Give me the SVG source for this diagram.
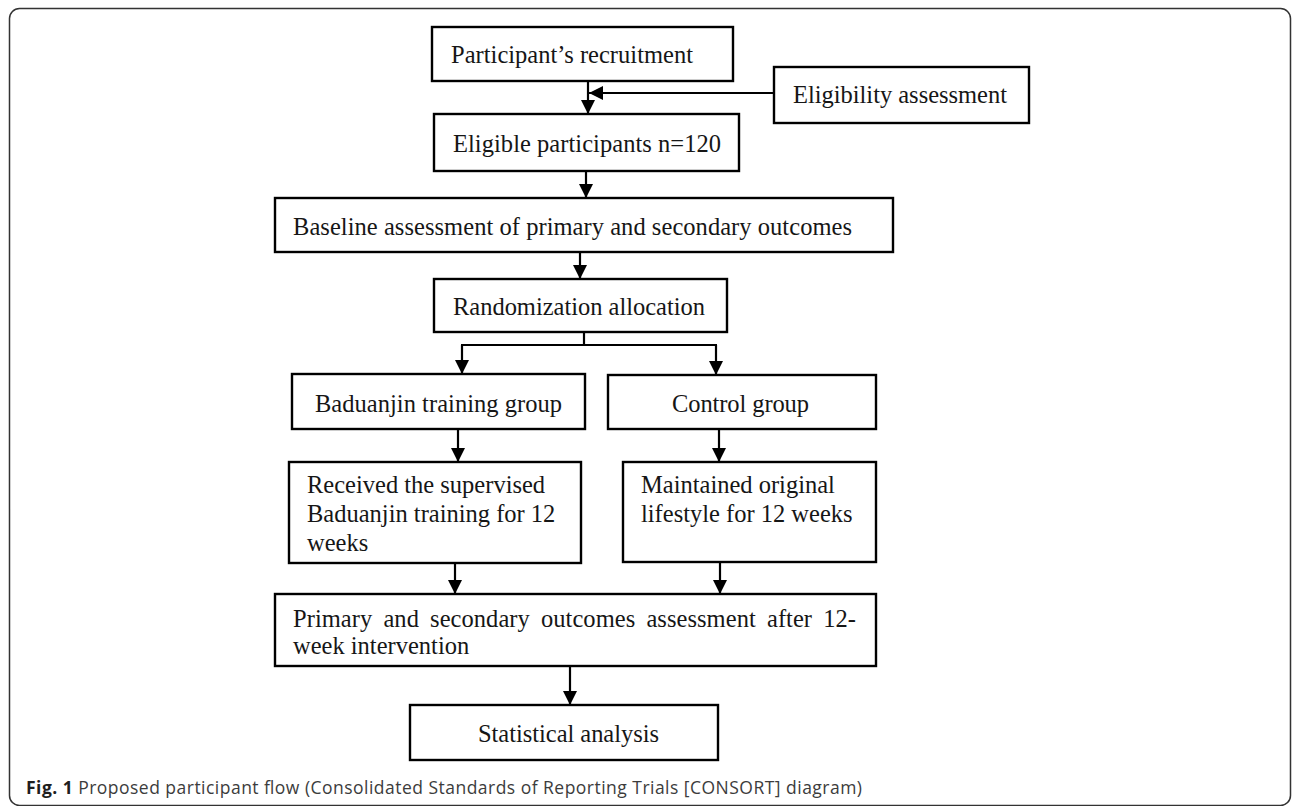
<svg xmlns="http://www.w3.org/2000/svg" width="1292" height="806" viewBox="0 0 1292 806">
  <defs>
    <marker id="arr" viewBox="0 0 10 10" refX="10" refY="5" markerWidth="14" markerHeight="14" markerUnits="userSpaceOnUse" orient="auto">
      <path d="M0,0 L10,5 L0,10 z" fill="#000"/>
    </marker>
    <style>
      .box{fill:#fff;stroke:#000;stroke-width:2.4}
      .t{font-family:"Liberation Serif","Times New Roman",serif;font-size:24.5px;fill:#161616}
      .c{stroke:#000;stroke-width:2.2;fill:none}
      .cap{font-family:"Open Sans","Noto Sans",sans-serif;font-size:17.5px;fill:#3c3c3c}
    </style>
  </defs>
  <rect width="1292" height="806" fill="#fff"/>
  <rect x="9.5" y="8.5" width="1281" height="797" rx="10" fill="none" stroke="#333" stroke-width="1.5"/>

  <g id="connectors">
    <path class="c" d="M588,81 V114" marker-end="url(#arr)"/>
    <path class="c" d="M774,93 H589" marker-end="url(#arr)"/>
    <path class="c" d="M586,171 V198" marker-end="url(#arr)"/>
    <path class="c" d="M580,252 V279" marker-end="url(#arr)"/>
    <path class="c" d="M584,332 V345"/>
    <path class="c" d="M461,345 H717"/>
    <path class="c" d="M462,345 V374" marker-end="url(#arr)"/>
    <path class="c" d="M716,345 V375" marker-end="url(#arr)"/>
    <path class="c" d="M458,429 V462" marker-end="url(#arr)"/>
    <path class="c" d="M719,429 V462" marker-end="url(#arr)"/>
    <path class="c" d="M455,563 V594" marker-end="url(#arr)"/>
    <path class="c" d="M720,562 V594" marker-end="url(#arr)"/>
    <path class="c" d="M570,666 V705" marker-end="url(#arr)"/>
  </g>

  <g id="recruitment">
    <rect class="box" x="432" y="27" width="301" height="54"/>
    <text class="t" x="451" y="63" textLength="242" lengthAdjust="spacing">Participant’s recruitment</text>
  </g>
  <g id="eligibility-assessment">
    <rect class="box" x="774" y="67" width="255" height="56"/>
    <text class="t" x="793" y="103" textLength="214" lengthAdjust="spacing">Eligibility assessment</text>
  </g>
  <g id="eligible">
    <rect class="box" x="434" y="114" width="305" height="57" stroke-width="3"/>
    <text class="t" x="453" y="152" textLength="268" lengthAdjust="spacing">Eligible participants n=120</text>
  </g>
  <g id="baseline">
    <rect class="box" x="275" y="198" width="618" height="54"/>
    <text class="t" x="293" y="235" textLength="559" lengthAdjust="spacing">Baseline assessment of primary and secondary outcomes</text>
  </g>
  <g id="randomization">
    <rect class="box" x="434" y="279" width="293" height="53"/>
    <text class="t" x="453" y="315" textLength="252" lengthAdjust="spacing">Randomization allocation</text>
  </g>
  <g id="baduanjin-group">
    <rect class="box" x="292" y="374" width="293" height="55" stroke-width="3"/>
    <text class="t" x="315" y="412" textLength="247" lengthAdjust="spacing">Baduanjin training group</text>
  </g>
  <g id="control-group">
    <rect class="box" x="608" y="375" width="268" height="54"/>
    <text class="t" x="672" y="412" textLength="137" lengthAdjust="spacing">Control group</text>
  </g>
  <g id="received">
    <rect class="box" x="289" y="462" width="292" height="101"/>
    <text class="t" x="307" y="493">Received the supervised</text>
    <text class="t" x="307" y="522">Baduanjin training for 12</text>
    <text class="t" x="307" y="551">weeks</text>
  </g>
  <g id="maintained">
    <rect class="box" x="623" y="462" width="253" height="100"/>
    <text class="t" x="641" y="493">Maintained original</text>
    <text class="t" x="641" y="522">lifestyle for 12 weeks</text>
  </g>
  <g id="primary">
    <rect class="box" x="275" y="594" width="601" height="72"/>
    <text class="t" x="293" y="627" textLength="563" lengthAdjust="spacing" word-spacing="5">Primary and secondary outcomes assessment after 12-</text>
    <text class="t" x="293" y="654">week intervention</text>
  </g>
  <g id="statistical">
    <rect class="box" x="410" y="705" width="308" height="55"/>
    <text class="t" x="478" y="742" textLength="181" lengthAdjust="spacing">Statistical analysis</text>
  </g>

  <text class="cap" x="26" y="794" textLength="836" lengthAdjust="spacing"><tspan font-weight="bold" fill="#1e1e1e">Fig. 1</tspan> Proposed participant flow (Consolidated Standards of Reporting Trials [CONSORT] diagram)</text>
</svg>
